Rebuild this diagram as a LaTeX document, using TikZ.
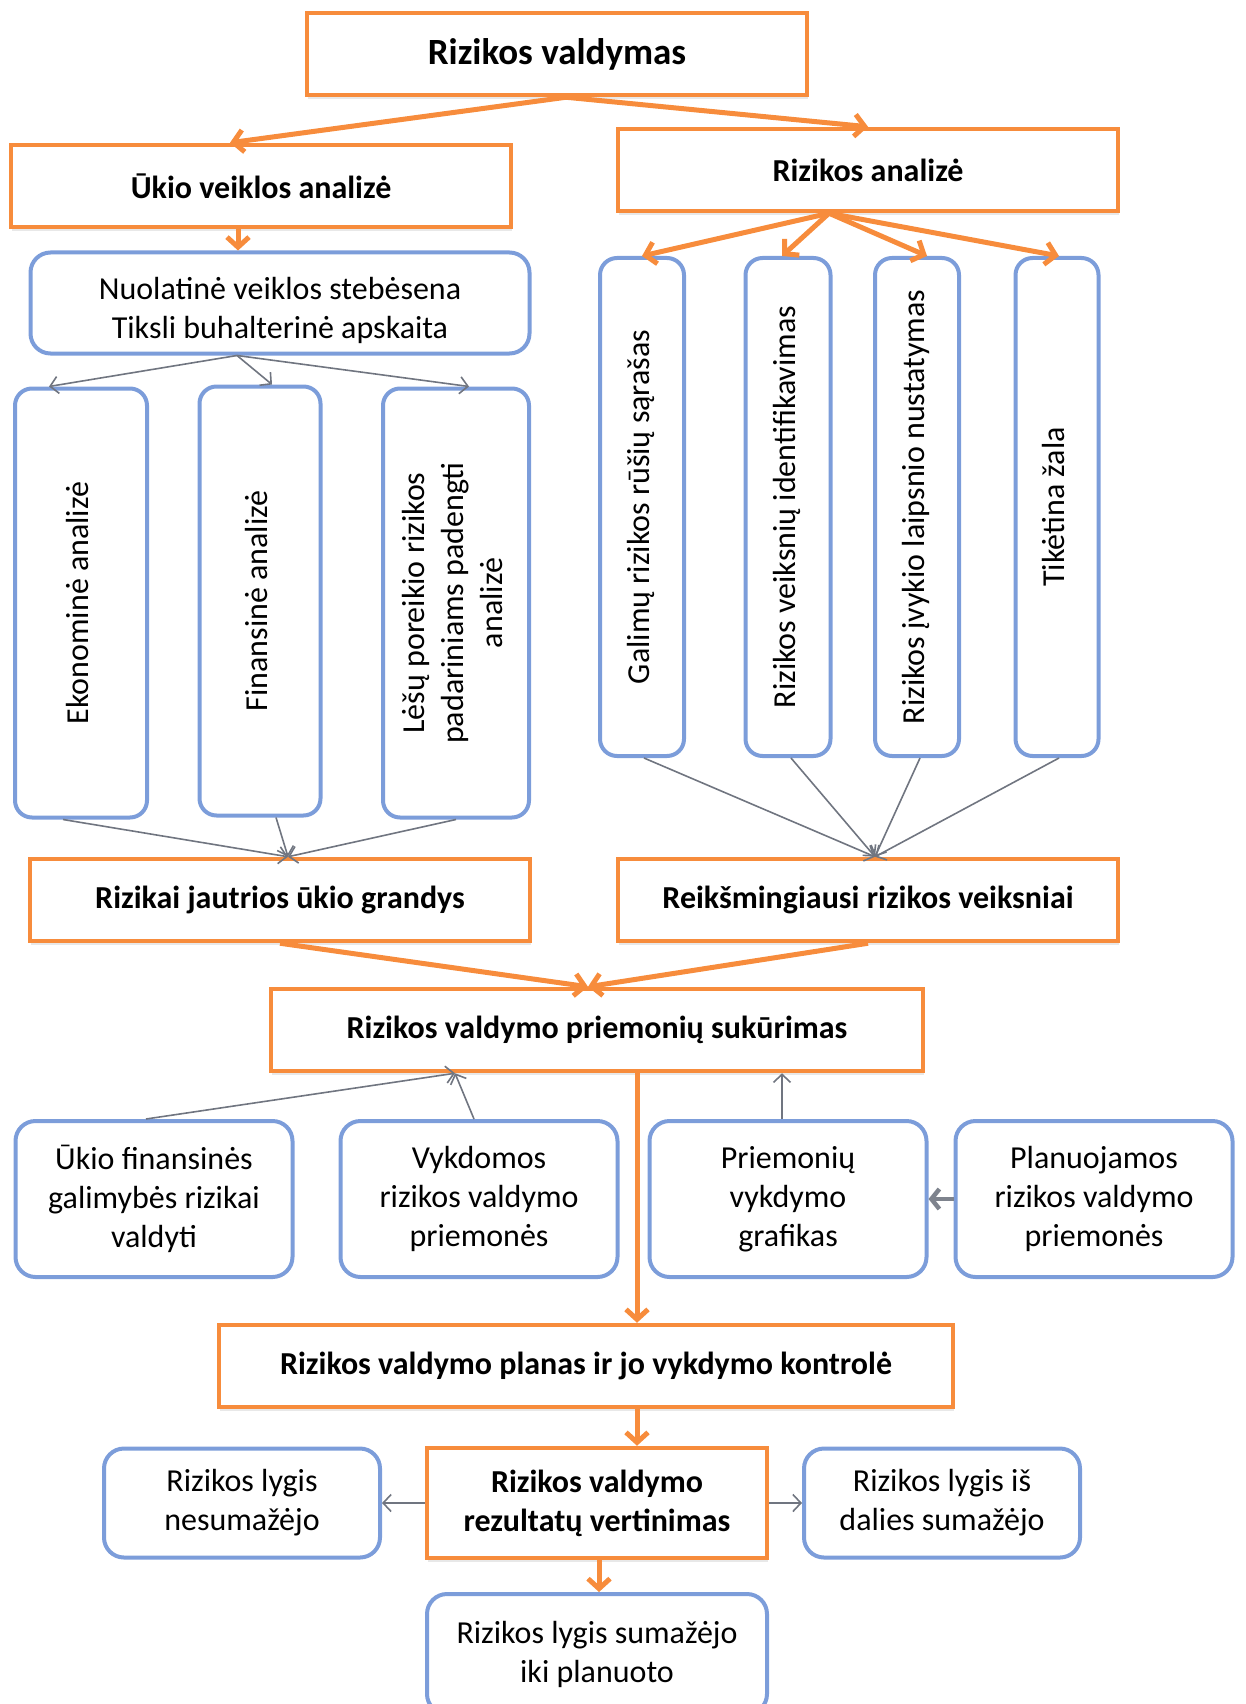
\documentclass[tikz,border=0pt]{standalone}
\usepackage{fontspec}
\setmainfont{Carlito}
\usetikzlibrary{arrows.meta,calc,shadows}
\definecolor{rorange}{RGB}{247,140,60}
\definecolor{rblue}{RGB}{124,157,218}
\definecolor{rgray}{RGB}{112,117,128}
\tikzset{
  obox/.style={draw=rorange, line width=4.5pt, fill=white, inner sep=0pt,
    minimum width=500pt, minimum height=82pt, align=center,
    font=\fontsize{32}{39}\selectfont\bfseries,
    drop shadow={opacity=0.18, shadow xshift=1pt, shadow yshift=-4pt}},
  bbox/.style={draw=rblue, line width=4pt, fill=white, rounded corners=20pt,
    inner sep=0pt, align=center, font=\fontsize{32}{39}\selectfont},
  tbox/.style={bbox, rounded corners=17pt},
  oarrow/.style={draw=rorange, line width=5pt, -{Straight Barb[length=10pt,width=22pt]}},
  garrow/.style={draw=rgray, line width=1.6pt, -{Straight Barb[length=8pt,width=17pt]}},
}
\newcommand{\vtext}[1]{\rotatebox{90}{\raisebox{-4pt}{\begin{tabular}{@{}c@{}}#1\end{tabular}}}}
\begin{document}
\begin{tikzpicture}[x=1pt,y=-1pt]
  \useasboundingbox (0,0) rectangle (1245,1704);
  % top level
  \node[obox, font=\fontsize{37}{44}\selectfont\bfseries] (title) at (557,54) {Rizikos valdymas};
  \node[obox] (ukio) at (261,186) {Ūkio veiklos analizė};
  \node[obox] (ran) at (868,170) {Rizikos analizė};
  % left branch
  \node[bbox, minimum width=499pt, minimum height=101pt, text height=76pt] (nuol) at (280,303) {Nuolatinė veiklos stebėsena\\Tiksli buhalterinė apskaita};
  \node[tbox, minimum width=132pt, minimum height=429pt] (eko) at (81,603) {\vtext{Ekonominė analizė}};
  \node[tbox, minimum width=121pt, minimum height=429pt] (fin) at (260,601) {\vtext{Finansinė analizė}};
  \node[tbox, minimum width=146pt, minimum height=429pt] (les) at (456,603) {\vtext{Lėšų poreikio rizikos\\padariniams padengti\\analizė}};
  % right branch
  \node[tbox, minimum width=84pt, minimum height=498pt] (gal) at (642,507) {\vtext{Galimų rizikos rūšių sąrašas}};
  \node[tbox, minimum width=85pt, minimum height=498pt] (vei) at (788,507) {\vtext{Rizikos veiksnių identifikavimas}};
  \node[tbox, minimum width=84pt, minimum height=498pt] (ivy) at (917,507) {\vtext{Rizikos įvykio laipsnio nustatymas}};
  \node[tbox, minimum width=83pt, minimum height=498pt] (tik) at (1057,507) {\vtext{Tikėtina žala}};
  \node[obox] (rjug) at (280,900) {Rizikai jautrios ūkio grandys};
  \node[obox] (reik) at (868,900) {Reikšmingiausi rizikos veiksniai};
  % measures
  \node[obox, minimum width=652pt] (prie) at (597,1030) {Rizikos valdymo priemonių sukūrimas};
  \node[bbox, minimum width=277pt, minimum height=156pt] (ukfin) at (154,1199) {Ūkio finansinės\\galimybės rizikai\\valdyti};
  \node[bbox, minimum width=277pt, minimum height=156pt] (vykd) at (479,1199) {Vykdomos\\rizikos valdymo\\priemonės};
  \node[bbox, minimum width=277pt, minimum height=156pt] (pgraf) at (788,1199) {Priemonių\\vykdymo\\grafikas};
  \node[bbox, minimum width=277pt, minimum height=156pt] (plnj) at (1094,1199) {Planuojamos\\rizikos valdymo\\priemonės};
  \node[obox, minimum width=734pt] (plan) at (586,1366) {Rizikos valdymo planas ir jo vykdymo kontrolė};
  % evaluation
  \node[obox, minimum width=340pt, minimum height=110pt] (rez) at (597,1503) {Rizikos valdymo\\rezultatų vertinimas};
  \node[bbox, minimum width=276pt, minimum height=109pt] (nesu) at (242,1503) {Rizikos lygis\\nesumažėjo};
  \node[bbox, minimum width=276pt, minimum height=109pt] (dal) at (942,1503) {Rizikos lygis iš\\dalies sumažėjo};
  \node[bbox, minimum width=340pt, minimum height=120pt] (suma) at (597,1654) {Rizikos lygis sumažėjo\\iki planuoto};
  % orange connectors
  \draw[oarrow] ($(title.south)+(9,0)$) -- ($(ukio.north)+(-31,0)$);
  \draw[oarrow] ($(title.south)+(9,0)$) -- (ran.north);
  \draw[oarrow] ($(ukio.south)+(-23,0)$) -- ($(nuol.north)+(-42,0)$);
  \foreach \t/\dx in {gal/0,vei/-6,ivy/10,tik/2}
    \draw[oarrow] ($(ran.south)+(-39,0)$) -- ($(\t.north)+(\dx,0)$);
  \draw[oarrow] (rjug.south) -- ($(prie.north)+(-9,0)$);
  \draw[oarrow] (reik.south) -- ($(prie.north)+(-9,0)$);
  \draw[oarrow] ($(prie.south)+(40,0)$) -- ($(plan.north)+(51,0)$);
  \draw[oarrow] ($(plan.south)+(51,0)$) -- ($(rez.north)+(40,0)$);
  \draw[oarrow] ($(rez.south)+(2,0)$) -- ($(suma.north)+(2,0)$);
  % gray connectors
  \draw[garrow] ($(nuol.south)+(-43,0)$) -- ($(eko.north)+(-32,0)$);
  \draw[garrow] ($(nuol.south)+(-43,0)$) -- ($(fin.north)+(12,0)$);
  \draw[garrow] ($(nuol.south)+(-43,0)$) -- ($(les.north)+(13,0)$);
  \draw[garrow] ($(eko.south)+(-18,0)$) -- ($(rjug.north)+(8,0)$);
  \draw[garrow] ($(fin.south)+(16,0)$) -- ($(rjug.north)+(8,0)$);
  \draw[garrow] (les.south) -- ($(rjug.north)+(8,0)$);
  \foreach \t/\dx in {gal/2,vei/3,ivy/3,tik/2}
    \draw[garrow] ($(\t.south)+(\dx,0)$) -- ($(reik.north)+(7,0)$);
  \draw[garrow] ($(ukfin.north)+(-8,0)$) -- ($(prie.south)+(-142,0)$);
  \draw[garrow] ($(vykd.north)+(-5,0)$) -- ($(prie.south)+(-142,0)$);
  \draw[garrow] ($(pgraf.north)+(-6,0)$) -- ($(prie.south)+(185,0)$);
  \draw[draw=rgray!90, line width=4.5pt, -{Straight Barb[length=8pt,width=20pt]}] (plnj.west) -- (pgraf.east);
  \draw[garrow] (rez.west) -- (nesu.east);
  \draw[garrow] (rez.east) -- (dal.west);
\end{tikzpicture}
\end{document}
